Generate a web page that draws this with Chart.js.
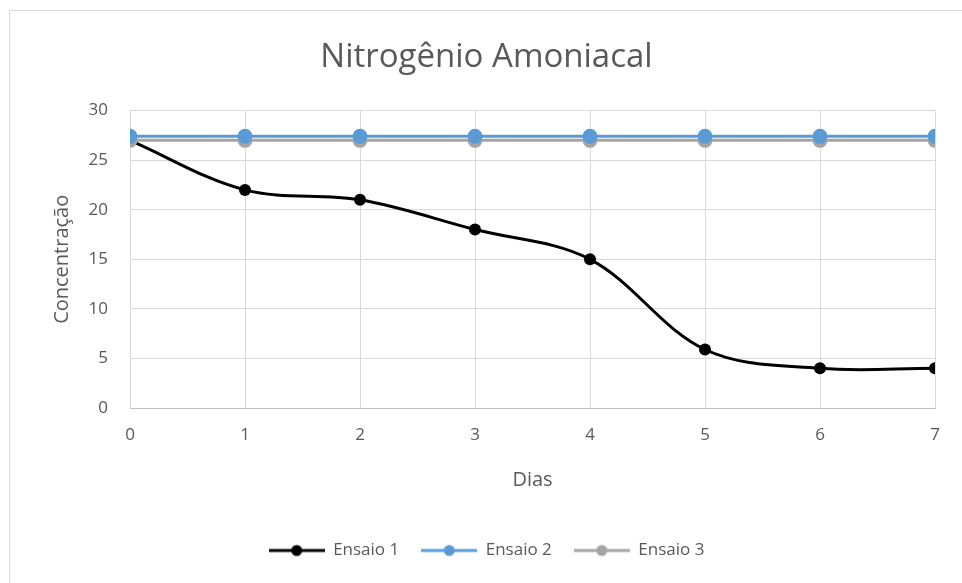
<!DOCTYPE html>
<html>
<head>
<meta charset="utf-8">
<script src="https://cdn.jsdelivr.net/npm/chart.js@4"></script>
<style>
  html, body { margin: 0; padding: 0; background: #fff; }
  #wrap { position: relative; width: 962px; height: 583px; overflow: hidden; }
  #frame { position: absolute; left: 9px; top: 10px; width: 980px; height: 600px;
           border-top: 1px solid #d9d9d9; border-left: 1px solid #d9d9d9; }
  canvas { position: absolute; left: 0; top: 0; }
</style>
</head>
<body>
<div id="wrap">
  <div id="frame"></div>
  <canvas id="c" width="962" height="583"></canvas>
</div>
<script>
// Dias de ensaio e concentrações medidas
const dias = [0, 1, 2, 3, 4, 5, 6, 7];
const ensaio1 = [27, 22, 21, 18, 15, 5.9, 4, 4];
const ensaio2 = [27.4, 27.4, 27.4, 27.4, 27.4, 27.4, 27.4, 27.4];
const ensaio3 = [27, 27, 27, 27, 27, 27, 27, 27];
const yTicks = [0, 5, 10, 15, 20, 25, 30];

const FONT = "'Open Sans', 'Liberation Sans', sans-serif";
const TXT = '#595959';

function pts(vals) { return dias.map((d, i) => ({ x: d, y: vals[i] })); }

// legend symbol: short line with a dot in the middle
function legendIcon(color, lw, r) {
  const c = document.createElement('canvas');
  c.width = 56; c.height = 16;
  const g = c.getContext('2d');
  g.strokeStyle = color; g.lineWidth = lw;
  g.beginPath(); g.moveTo(0, 8); g.lineTo(56, 8); g.stroke();
  g.fillStyle = color;
  g.beginPath(); g.arc(28, 8, r, 0, Math.PI * 2); g.fill();
  return c;
}

const series = [
  { label: 'Ensaio 1', data: pts(ensaio1), color: '#000000', lw: 3, r: 6, order: 2, tension: 0.35 },
  { label: 'Ensaio 2', data: pts(ensaio2), color: '#5b9bd5', lw: 3, r: 7.5, order: 0, tension: 0 },
  { label: 'Ensaio 3', data: pts(ensaio3), color: '#a5a5a5', lw: 3, r: 7.5, order: 1, tension: 0 }
];

new Chart(document.getElementById('c'), {
  type: 'line',
  data: {
    datasets: series.map(s => ({
      label: s.label,
      data: s.data,
      borderColor: s.color,
      backgroundColor: s.color,
      borderWidth: s.lw,
      pointRadius: s.r,
      pointHoverRadius: s.r,
      pointBorderWidth: 0,
      pointBackgroundColor: s.color,
      tension: s.tension,
      order: s.order,
      pointStyle: 'circle',
      icon: legendIcon(s.color, s.lw, 5.5)
    }))
  },
  options: {
    responsive: false,
    animation: false,
    layout: { padding: { left: 38, right: 27, top: 0, bottom: 14 } },
    plugins: {
      tooltip: { enabled: false },
      title: {
        display: true,
        text: 'Nitrogênio Amoniacal',
        color: TXT,
        font: { family: FONT, size: 33, weight: 'normal' },
        padding: { top: 38, bottom: 33 }
      },
      legend: {
        position: 'bottom',
        labels: {
          usePointStyle: true,
          pointStyleWidth: 56,
          color: TXT,
          font: { family: FONT, size: 17 },
          padding: 22,
          generateLabels(chart) {
            return chart.data.datasets.map((ds, i) => ({
              text: ds.label,
              pointStyle: ds.icon,
              fillStyle: ds.borderColor,
              strokeStyle: ds.borderColor,
              fontColor: TXT,
              lineWidth: 0,
              hidden: false,
              datasetIndex: i
            }));
          }
        }
      }
    },
    scales: {
      x: {
        type: 'linear',
        min: 0, max: 7,
        ticks: { stepSize: 1, color: TXT, font: { family: FONT, size: 17 }, padding: 17 },
        grid: { color: '#d9d9d9', lineWidth: 1, drawTicks: false },
        border: { color: '#bfbfbf' },
        title: { display: true, text: 'Dias', color: TXT, font: { family: FONT, size: 20 }, padding: { top: 0, bottom: 28 } },
        afterFit(s) { s.height = 112; }
      },
      y: {
        min: 0, max: 30,
        afterBuildTicks(s) { s.ticks = yTicks.map(v => ({ value: v })); },
        ticks: { color: TXT, font: { family: FONT, size: 17 }, padding: 22 },
        grid: { color: '#d9d9d9', lineWidth: 1, drawTicks: false },
        border: { display: false },
        title: { display: true, text: 'Concentração', color: TXT, font: { family: FONT, size: 20 }, padding: { top: 12, bottom: 0 } },
        afterFit(s) { s.width = 92; }
      }
    }
  }
});
</script>
</body>
</html>
